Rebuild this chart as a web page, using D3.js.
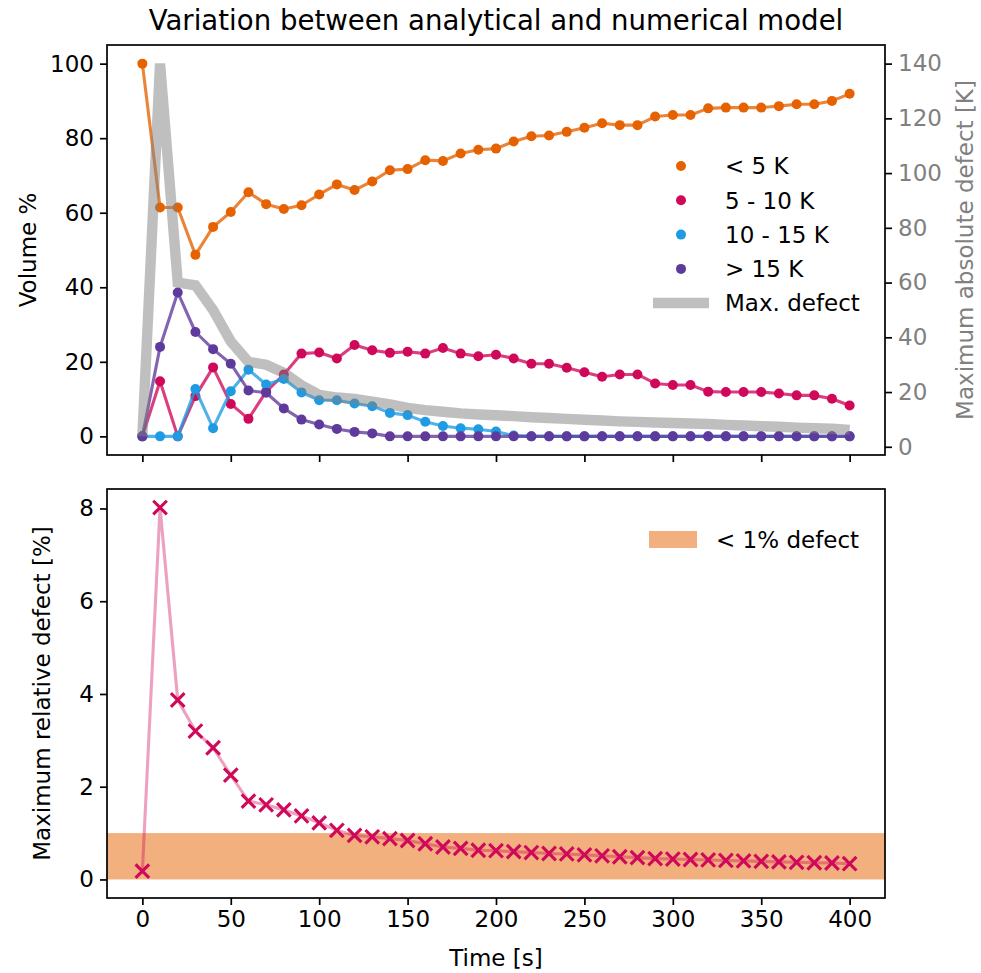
<!DOCTYPE html>
<html>
<head>
<meta charset="utf-8">
<script src="https://cdn.jsdelivr.net/npm/d3@7"></script>
<style>
  body { margin: 0; background: #fff; }
  text { font-family: "DejaVu Sans", sans-serif; }
</style>
</head>
<body>
<div id="chart"></div>
<script>
// time steps [s]
var times = [0, 10, 20, 30, 40, 50, 60, 70, 80, 90, 100, 110, 120, 130, 140, 150, 160, 170, 180, 190, 200,
  210, 220, 230, 240, 250, 260, 270, 280, 290, 300, 310, 320, 330, 340, 350, 360, 370, 380, 390, 400];

// volume % per defect class
var below5 = [100, 61.4, 61.4, 48.7, 56.2, 60.2, 65.5, 62.3, 61.0, 62.0, 64.9, 67.6, 66.1, 68.4, 71.4, 71.7, 74.1, 73.9, 75.9, 76.9, 77.2,
  79.1, 80.5, 80.7, 81.7, 82.8, 84.0, 83.5, 83.5, 85.8, 86.2, 86.2, 88.0, 88.2, 88.2, 88.2, 88.6, 89.1, 89.1, 90.0, 91.9];
var from5to10 = [0, 14.8, 0, 10.8, 18.5, 8.7, 4.7, 12.0, 16.6, 22.2, 22.5, 20.9, 24.5, 23.1, 22.4, 22.7, 22.2, 23.7, 22.2, 21.5, 21.9,
  20.9, 19.5, 19.5, 18.4, 17.2, 16.0, 16.6, 16.6, 14.2, 13.8, 13.8, 12.0, 11.9, 11.9, 11.9, 11.5, 11.0, 11.0, 10.1, 8.3];
var from10to15 = [0, 0, 0, 12.7, 2.2, 12.1, 17.9, 13.9, 15.4, 11.8, 9.7, 9.7, 8.8, 8.1, 6.3, 5.7, 3.9, 2.8, 2.2, 1.9, 1.3,
  0.2, 0, 0, 0, 0, 0, 0, 0, 0, 0, 0, 0, 0, 0, 0, 0, 0, 0, 0, 0];
var above15 = [0, 24.0, 38.6, 28.0, 23.4, 19.5, 12.3, 11.7, 7.5, 4.5, 3.2, 2.0, 1.2, 0.8, 0, 0, 0, 0, 0, 0, 0,
  0, 0, 0, 0, 0, 0, 0, 0, 0, 0, 0, 0, 0, 0, 0, 0, 0, 0, 0, 0];

// maximum absolute defect [K]
var maxDefect = [3.8, 140, 60, 59, 50, 38.5, 31, 30, 27, 22.5, 19, 18, 17.5, 16.5, 15.5, 14.2, 13.4, 12.8, 12.2, 11.8, 11.5,
  11.2, 10.8, 10.5, 10.2, 9.9, 9.6, 9.3, 9.1, 8.9, 8.7, 8.5, 8.3, 8.0, 7.8, 7.5, 7.3, 7.0, 6.8, 6.6, 6.2];

// maximum relative defect [%]
var relDefect = [0.18, 8.02, 3.87, 3.2, 2.84, 2.25, 1.69, 1.61, 1.50, 1.37, 1.22, 1.06, 0.95, 0.92, 0.88, 0.84, 0.77, 0.70, 0.67, 0.63, 0.62,
  0.60, 0.58, 0.56, 0.55, 0.53, 0.51, 0.49, 0.47, 0.45, 0.44, 0.43, 0.42, 0.41, 0.40, 0.39, 0.38, 0.37, 0.36, 0.355, 0.34];

var classNames = ["< 5 K", "5 - 10 K", "10 - 15 K", "> 15 K"];
var classColors = ["#E66100", "#D0085A", "#1E9BE3", "#5D3A9B"];
var xTicks = [0, 50, 100, 150, 200, 250, 300, 350, 400];
var leftTicks = [0, 20, 40, 60, 80, 100];
var rightTicks = [0, 20, 40, 60, 80, 100, 120, 140];
var relTicks = [0, 2, 4, 6, 8];

var W = 981, H = 973;
var left = 107, right = 885;
var top1 = 45, bot1 = 455;
var top2 = 489, bot2 = 898;
var fs = 23;

var svg = d3.select("#chart").append("svg")
  .attr("width", W).attr("height", H);

var x = d3.scaleLinear().domain([-20, 420]).range([left, right]);
var yL = d3.scaleLinear().domain([-5, 105]).range([bot1, top1]);
var yR = d3.scaleLinear().domain([-3.0, 146.8]).range([bot1, top1]);
var yB = d3.scaleLinear().domain([-0.40, 8.42]).range([bot2, top2]);

function styleAxis(g, color) {
  g.select(".domain").remove();
  g.selectAll(".tick line").attr("stroke", "#000").attr("stroke-width", 1.7);
  g.selectAll(".tick text").attr("font-size", fs).attr("fill", color || "#000")
    .attr("font-family", "DejaVu Sans");
}

// ---------- top panel ----------
svg.append("g").attr("transform", "translate(0," + bot1 + ")")
  .call(d3.axisBottom(x).tickValues(xTicks).tickSize(7).tickFormat(""))
  .call(styleAxis);
svg.append("g").attr("transform", "translate(" + left + ",0)")
  .call(d3.axisLeft(yL).tickValues(leftTicks).tickSize(7).tickPadding(6))
  .call(styleAxis);
svg.append("g").attr("transform", "translate(" + right + ",0)")
  .call(d3.axisRight(yR).tickValues(rightTicks).tickSize(7).tickPadding(6))
  .call(function(g){ styleAxis(g, "#808080"); });

var series = [below5, from5to10, from10to15, above15];
var lineL = d3.line().x(function(d, i){ return x(times[i]); }).y(function(d){ return yL(d); });

var plot1 = svg.append("g");
series.forEach(function(s, k) {
  plot1.append("path").datum(s)
    .attr("d", lineL)
    .attr("fill", "none")
    .attr("stroke", classColors[k])
    .attr("stroke-opacity", 0.78)
    .attr("stroke-width", 3.1)
    .attr("stroke-linejoin", "round");
  plot1.selectAll(null).data(s).enter().append("circle")
    .attr("cx", function(d, i){ return x(times[i]); })
    .attr("cy", function(d){ return yL(d); })
    .attr("r", 5)
    .attr("fill", classColors[k]);
});

// max defect on twin axis, drawn on top
var lineR = d3.line().x(function(d, i){ return x(times[i]); }).y(function(d){ return yR(d); });
plot1.append("path").datum(maxDefect)
  .attr("d", lineR)
  .attr("fill", "none")
  .attr("stroke", "#808080")
  .attr("stroke-opacity", 0.5)
  .attr("stroke-width", 10.4)
  .attr("stroke-linejoin", "miter");

svg.append("rect")
  .attr("x", left).attr("y", top1)
  .attr("width", right - left).attr("height", bot1 - top1)
  .attr("fill", "none").attr("stroke", "#000").attr("stroke-width", 1.7);

// legend (no frame)
var leg = svg.append("g");
classNames.forEach(function(name, k) {
  var yy = 166 + k * 34.3;
  leg.append("circle").attr("cx", 681).attr("cy", yy).attr("r", 5).attr("fill", classColors[k]);
  leg.append("text").attr("x", 725).attr("y", yy).attr("dy", "0.36em")
    .attr("font-size", fs).text(name);
});
leg.append("line")
  .attr("x1", 653).attr("x2", 709).attr("y1", 303).attr("y2", 303)
  .attr("stroke", "#808080").attr("stroke-opacity", 0.5).attr("stroke-width", 10.4);
leg.append("text").attr("x", 725).attr("y", 303).attr("dy", "0.36em")
  .attr("font-size", fs).text("Max. defect");

// ---------- bottom panel ----------
var plot2 = svg.append("g");
plot2.append("rect")
  .attr("x", left).attr("width", right - left)
  .attr("y", yB(1)).attr("height", yB(0) - yB(1))
  .attr("fill", "#E66100").attr("fill-opacity", 0.5);

var lineB = d3.line().x(function(d, i){ return x(times[i]); }).y(function(d){ return yB(d); });
plot2.append("path").datum(relDefect)
  .attr("d", lineB)
  .attr("fill", "none")
  .attr("stroke", "#D0085A")
  .attr("stroke-opacity", 0.38)
  .attr("stroke-width", 3.1);

var m = 6.8;
plot2.selectAll(null).data(relDefect).enter().append("path")
  .attr("transform", function(d, i){ return "translate(" + x(times[i]) + "," + yB(d) + ")"; })
  .attr("d", "M" + (-m) + "," + (-m) + "L" + m + "," + m + "M" + (-m) + "," + m + "L" + m + "," + (-m))
  .attr("stroke", "#D0085A")
  .attr("stroke-width", 3.1)
  .attr("fill", "none");

svg.append("g").attr("transform", "translate(0," + bot2 + ")")
  .call(d3.axisBottom(x).tickValues(xTicks).tickSize(7).tickPadding(6))
  .call(styleAxis);
svg.append("g").attr("transform", "translate(" + left + ",0)")
  .call(d3.axisLeft(yB).tickValues(relTicks).tickSize(7).tickPadding(6))
  .call(styleAxis);

svg.append("rect")
  .attr("x", left).attr("y", top2)
  .attr("width", right - left).attr("height", bot2 - top2)
  .attr("fill", "none").attr("stroke", "#000").attr("stroke-width", 1.7);

var leg2 = svg.append("g");
leg2.append("rect").attr("x", 649).attr("y", 531).attr("width", 48).attr("height", 17)
  .attr("fill", "#E66100").attr("fill-opacity", 0.5);
leg2.append("text").attr("x", 716).attr("y", 540).attr("dy", "0.36em")
  .attr("font-size", fs).text("< 1% defect");

// ---------- titles and labels ----------
svg.append("text").attr("x", (left + right) / 2).attr("y", 30)
  .attr("text-anchor", "middle").attr("font-size", 27.6)
  .text("Variation between analytical and numerical model");

svg.append("text").attr("transform", "translate(36," + ((top1 + bot1) / 2) + ") rotate(-90)")
  .attr("text-anchor", "middle").attr("font-size", fs).text("Volume %");

svg.append("text").attr("transform", "translate(973," + ((top1 + bot1) / 2) + ") rotate(-90)")
  .attr("text-anchor", "middle").attr("font-size", fs).attr("fill", "#808080")
  .text("Maximum absolute defect [K]");

svg.append("text").attr("transform", "translate(50," + ((top2 + bot2) / 2) + ") rotate(-90)")
  .attr("text-anchor", "middle").attr("font-size", fs).text("Maximum relative defect [%]");

svg.append("text").attr("x", (left + right) / 2).attr("y", 966)
  .attr("text-anchor", "middle").attr("font-size", fs).text("Time [s]");
</script>
</body>
</html>
